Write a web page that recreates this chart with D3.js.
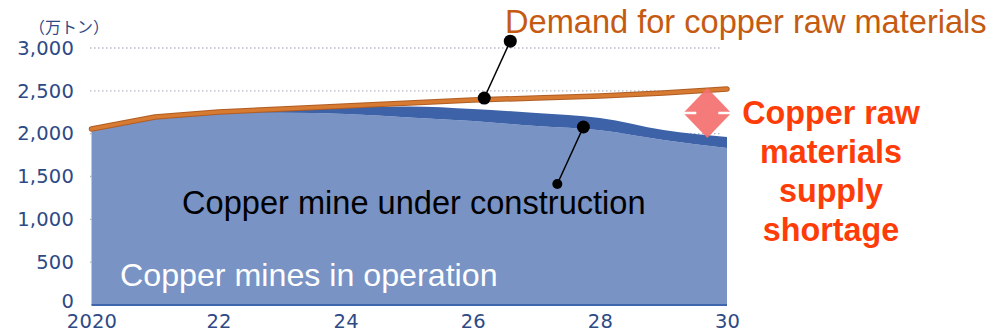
<!DOCTYPE html>
<html><head><meta charset="utf-8">
<script src="https://cdn.jsdelivr.net/npm/d3@7"></script>
<style>
html,body{margin:0;padding:0;background:#fff;}
svg{display:block;}
</style></head>
<body>
<svg id="chart" width="988" height="334"></svg>
<script>
// ---- data ----
const years = [2020, 2021, 2022, 2023, 2024, 2025, 2026, 2027, 2028, 2029, 2030];
const operation = [2020, 2170, 2235, 2245, 2230, 2189, 2148, 2089, 2040, 1926, 1833];
const construction = [5, 10, 15, 45, 81, 128, 140, 152, 143, 117, 128];
const demand = [2054, 2194, 2253, 2288, 2323, 2358, 2393, 2416, 2440, 2475, 2521];
const yTicks = [0, 500, 1000, 1500, 2000, 2500, 3000];
const xTicks = [2020, 2022, 2024, 2026, 2028, 2030];
const xTickLabels = ["2020", "22", "24", "26", "28", "30"];
const unitLabel = "（万トン）";
const demandLabel = "Demand for copper raw materials";
const constructionLabel = "Copper mine under construction";
const operationLabel = "Copper mines in operation";
const shortageLines = ["Copper raw", "materials", "supply", "shortage"];
// callouts in data units: [point on series, end of leader]
const demandCallout = [[2026.18, 2416], [2026.59, 3080]];
const constructionCallout = [[2027.74, 2078], [2027.33, 1412]];
const gapYear = 2029.69; // double arrow showing supply gap
const gapRange = [1950, 2533];

// ---- layout ----
const svg = d3.select("#chart");
const x = d3.scaleLinear().domain([2020, 2030]).range([91.5, 727]);
const y = d3.scaleLinear().domain([0, 3000]).range([305, 48]);

const navy = "#2e4a85";

// gridlines (dotted)
svg.append("g").selectAll("line").data(yTicks.filter(d => d > 0)).join("line")
  .attr("x1", 90).attr("x2", 722)
  .attr("y1", d => y(d)).attr("y2", d => y(d))
  .attr("stroke", "#b3b9c6").attr("stroke-width", 1.3)
  .attr("stroke-dasharray", "1.5,2.5");

// stacked areas
const rows = years.map((yr, i) => ({year: yr, operation: operation[i], construction: construction[i]}));
const stack = d3.stack().keys(["operation", "construction"])(rows);
const area = d3.area().x(d => x(d.data.year)).y0(d => y(d[0])).y1(d => y(d[1])).curve(d3.curveMonotoneX);
const fills = ["#7893c4", "#3d62a8"];
svg.append("g").selectAll("path").data(stack).join("path")
  .attr("d", area).attr("fill", (d, i) => fills[i]);

// x axis baseline
svg.append("line").attr("x1", x(2020)).attr("x2", x(2030))
  .attr("y1", y(0)).attr("y2", y(0))
  .attr("stroke", "#3f66ad").attr("stroke-width", 2);

// demand line
const line = d3.line().x((d, i) => x(years[i])).y(d => y(d));
svg.append("path").datum(demand).attr("d", line)
  .attr("fill", "none").attr("stroke", "#b05d24").attr("stroke-width", 5.5)
  .attr("stroke-linecap", "round").attr("stroke-linejoin", "round");
svg.append("path").datum(demand).attr("d", line)
  .attr("fill", "none").attr("stroke", "#d77a32").attr("stroke-width", 3.5)
  .attr("stroke-linecap", "round").attr("stroke-linejoin", "round");

// axes
const yAxis = svg.append("g").attr("transform", "translate(74,0)")
  .call(d3.axisLeft(y).tickValues(yTicks).tickSize(0).tickPadding(0).tickFormat(d3.format(",")));
yAxis.select(".domain").remove();
yAxis.selectAll("text").attr("fill", navy).attr("font-family", "DejaVu Sans")
  .attr("font-size", 19.5).attr("letter-spacing", 0.2);
yAxis.selectAll(".tick").filter(d => d === 0).select("text").attr("dy", "0.12em");

const xAxis = svg.append("g").attr("transform", `translate(0,${y(0)})`)
  .call(d3.axisBottom(x).tickValues(xTicks).tickSize(0).tickPadding(9)
    .tickFormat((d, i) => xTickLabels[i]));
xAxis.select(".domain").remove();
xAxis.selectAll("text").attr("fill", navy).attr("font-family", "DejaVu Sans")
  .attr("font-size", 19.5).attr("letter-spacing", 0.2);

svg.append("text").attr("x", 29).attr("y", 33).text(unitLabel)
  .attr("font-family", "Noto Sans CJK JP").attr("font-size", 16).attr("fill", navy);

// supply-gap double arrow (diamond)
const gx = x(gapYear), gTop = y(gapRange[1]), gBot = y(gapRange[0]);
const gMid = (gTop + gBot) / 2, hw = 24;
svg.append("path")
  .attr("d", `M${gx},${gTop} L${gx + hw},${gMid} L${gx},${gBot} L${gx - hw},${gMid} Z`)
  .attr("fill", "#f47070").attr("opacity", 0.92);
svg.append("line").attr("x1", gx - hw).attr("x2", gx - hw + 13).attr("y1", gMid).attr("y2", gMid)
  .attr("stroke", "#fff").attr("stroke-width", 2.5);
svg.append("line").attr("x1", gx + hw - 13).attr("x2", gx + hw).attr("y1", gMid).attr("y2", gMid)
  .attr("stroke", "#fff").attr("stroke-width", 2.5);

// callouts
function callout(c, r1, r2) {
  const g = svg.append("g");
  g.append("line").attr("x1", x(c[0][0])).attr("y1", y(c[0][1]))
    .attr("x2", x(c[1][0])).attr("y2", y(c[1][1]))
    .attr("stroke", "#000").attr("stroke-width", 1.5);
  g.append("circle").attr("cx", x(c[0][0])).attr("cy", y(c[0][1])).attr("r", r1).attr("fill", "#000");
  g.append("circle").attr("cx", x(c[1][0])).attr("cy", y(c[1][1])).attr("r", r2).attr("fill", "#000");
}
callout(demandCallout, 6.5, 6.5);
callout(constructionCallout, 6.5, 5);

// text labels
svg.append("text").attr("x", 505).attr("y", 33).text(demandLabel)
  .attr("font-family", "Liberation Sans").attr("font-size", 32.6).attr("fill", "#c55a11");
svg.append("text").attr("x", 182).attr("y", 214).text(constructionLabel)
  .attr("font-family", "Liberation Sans").attr("font-size", 32.6).attr("fill", "#000");
svg.append("text").attr("x", 120).attr("y", 286).text(operationLabel)
  .attr("font-family", "Liberation Sans").attr("font-size", 32.2).attr("fill", "#fff");
svg.append("g").selectAll("text").data(shortageLines).join("text")
  .attr("x", 831).attr("y", (d, i) => 124 + i * 39).attr("text-anchor", "middle")
  .text(d => d)
  .attr("font-family", "Liberation Sans").attr("font-weight", "bold")
  .attr("font-size", 32.3).attr("fill", "#fe3c08");
</script>
</body></html>
